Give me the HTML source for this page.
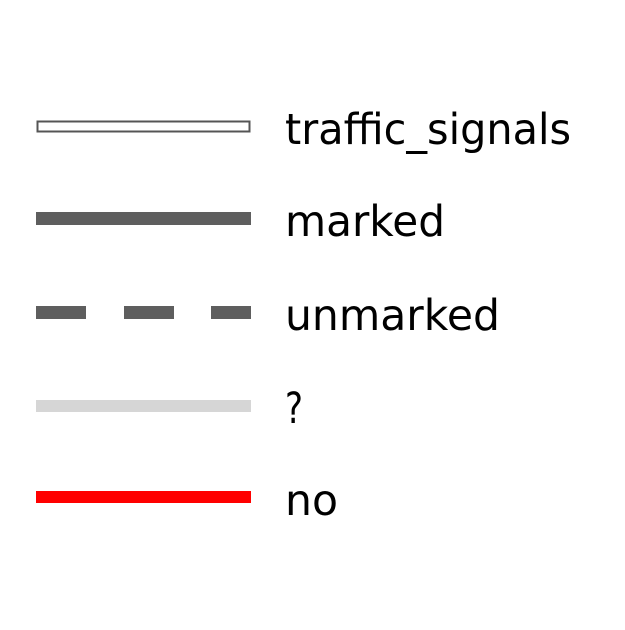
<!DOCTYPE html>
<html><head><meta charset="utf-8"><style>html,body{margin:0;padding:0;background:#fff}</style></head>
<body>
<svg width="625" height="625" viewBox="0 0 625 625" xmlns="http://www.w3.org/2000/svg">
<rect width="625" height="625" fill="#fff"/>
<rect x="37.5" y="121.5" width="212" height="10" fill="#fff" stroke="#555" stroke-width="2"/>
<rect x="36" y="212" width="215" height="13" fill="#5e5e5e"/>
<rect x="36" y="306" width="50" height="13" fill="#5e5e5e"/>
<rect x="124" y="306" width="50" height="13" fill="#5e5e5e"/>
<rect x="211" y="306" width="40" height="13" fill="#5e5e5e"/>
<rect x="36" y="400" width="215" height="12" fill="#d6d6d6"/>
<rect x="36" y="491" width="215" height="12" fill="#ff0000"/>
<g font-family="'DejaVu Sans','Liberation Sans',sans-serif" font-size="43" fill="#000">
<text x="285" y="144" textLength="286" lengthAdjust="spacingAndGlyphs">traffic_signals</text>
<text x="285" y="236" textLength="160" lengthAdjust="spacingAndGlyphs">marked</text>
<text x="285" y="330" textLength="215" lengthAdjust="spacingAndGlyphs">unmarked</text>
<text x="285" y="423" textLength="18" lengthAdjust="spacingAndGlyphs">?</text>
<text x="285" y="515" textLength="53" lengthAdjust="spacingAndGlyphs">no</text>
</g>
</svg>
</body></html>
